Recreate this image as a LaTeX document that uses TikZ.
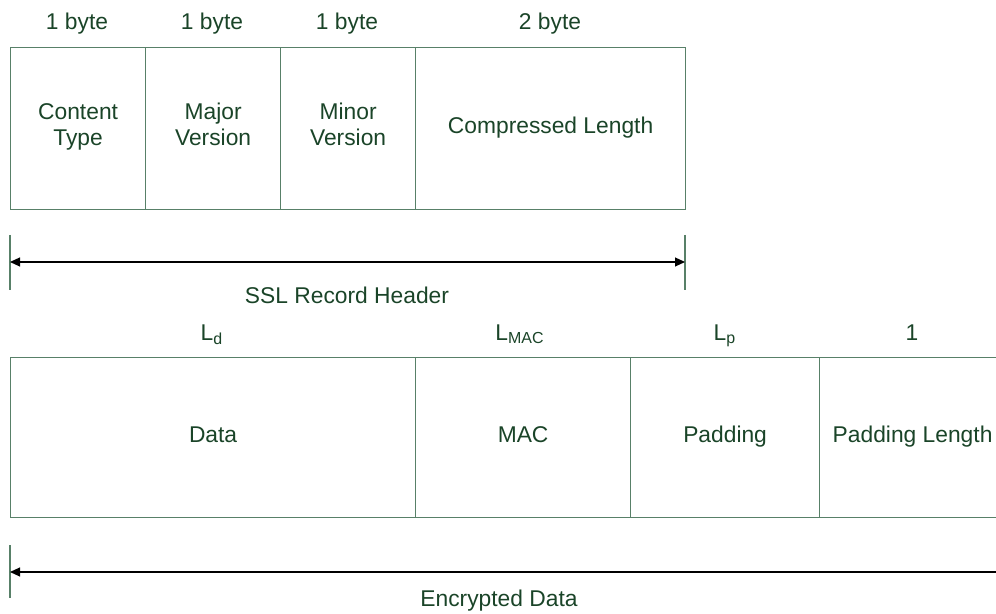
\documentclass[tikz,border=0pt]{standalone}
\usepackage{fontspec}
\setmainfont{Liberation Sans}
\usetikzlibrary{arrows.meta,positioning}
\definecolor{rimgreen}{RGB}{88,128,104}
\definecolor{inkgreen}{RGB}{26,68,40}
\tikzset{
  field/.style={draw=rimgreen, line width=0.6pt, anchor=north west,
    inner sep=0pt, align=center, text=inkgreen,
    execute at begin node=\strut, execute at end node=\strut},
  sizelabel/.style={text=inkgreen, execute at begin node=\strut},
  span/.style={black, line width=0.55pt},
  tick/.style={draw=rimgreen, line width=0.7pt}
}

\begin{document}
\begin{tikzpicture}[x=0.5pt,y=-0.5pt,font=\fontsize{11.4}{13}\selectfont]
  \useasboundingbox (0,0) rectangle (996,614);
  \clip (0,0) rectangle (996,614);
  % record header
  \node[field, minimum width=67.5pt, minimum height=81pt] (ctype) at (10,47) {Content\\Type};
  \node[field, minimum width=67.5pt, minimum height=81pt] (major) at (145,47) {Major\\Version};
  \node[field, minimum width=67.5pt, minimum height=81pt] (minor) at (280,47) {Minor\\Version};
  \node[field, minimum width=135pt, minimum height=81pt] (clen) at (415,47) {Compressed Length};
  \foreach \x/\txt in {77/1 byte, 212/1 byte, 347/1 byte, 550/2 byte} {
    \node[sizelabel] at (\x,24) {\txt};
  }
  \coordinate (hdrL) at (10,262);
  \coordinate (hdrR) at (685,262);
  \draw[tick] (hdrL) ++(0,-27) -- ++(0,55);
  \draw[tick] (hdrR) ++(0,-27) -- ++(0,55);
  \draw[span, {Triangle[length=5pt,width=4.5pt]}-{Triangle[length=5pt,width=4.5pt]}] (hdrL) -- (hdrR);
  \node[sizelabel] (hdrtxt) at (347,298) {SSL Record Header};
  % encrypted part
  \node[field, minimum width=202.5pt, minimum height=80pt] (data) at (10,357) {Data};
  \node[field, minimum width=107.5pt, minimum height=80pt] (mac) at (415,357) {MAC};
  \node[field, minimum width=94.5pt, minimum height=80pt] (pad) at (630,357) {Padding};
  \node[field, minimum width=93pt, minimum height=80pt] (padlen) at (819,357) {Padding Length};
  \node[sizelabel] at (212,335) {L\textsubscript{d}};
  \node[sizelabel] at (520,335) {L\textsubscript{MAC}};
  \node[sizelabel] at (725,335) {L\textsubscript{p}};
  \node[sizelabel] at (912,335) {1};
  \coordinate (encL) at (10,572);
  \coordinate (encR) at (1010,572);
  \draw[tick] (encL) ++(0,-27) -- ++(0,53);
  \draw[span, {Triangle[length=5pt,width=4.5pt]}-] (encL) -- (encR);
  \node[sizelabel] (enctxt) at (499,601) {Encrypted Data};
\end{tikzpicture}
\end{document}
